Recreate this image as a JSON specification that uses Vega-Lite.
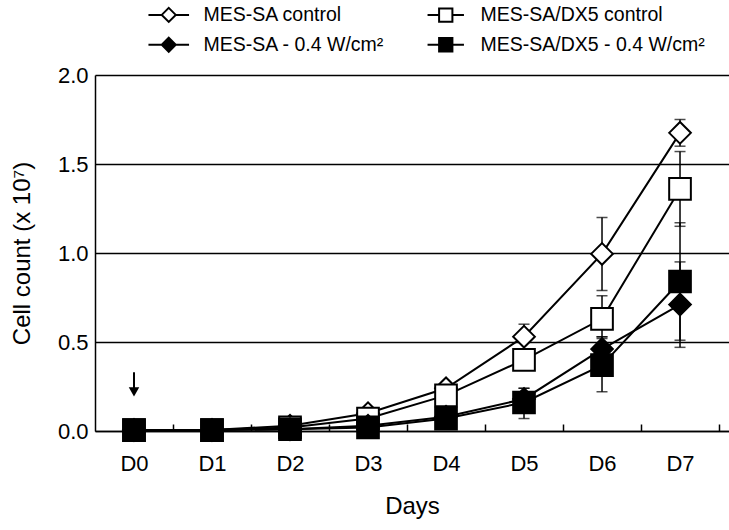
{
  "$schema": "https://vega.github.io/schema/vega-lite/v6.json",
  "width": 634,
  "height": 356,
  "autosize": {"type": "none"},
  "padding": {"left": 95, "top": 75, "right": 0, "bottom": 99},
  "config": {"view": {"stroke": null}, "font": "Liberation Sans"},
  "data": {
    "values": [
      {"series": "MES-SA control", "day": 0, "value": 0.005},
      {"series": "MES-SA control", "day": 1, "value": 0.005},
      {"series": "MES-SA control", "day": 2, "value": 0.03, "lo": 0.02, "hi": 0.04},
      {"series": "MES-SA control", "day": 3, "value": 0.1, "lo": 0.08, "hi": 0.12},
      {"series": "MES-SA control", "day": 4, "value": 0.24, "lo": 0.21, "hi": 0.27},
      {"series": "MES-SA control", "day": 5, "value": 0.53, "lo": 0.46, "hi": 0.6},
      {"series": "MES-SA control", "day": 6, "value": 0.995, "lo": 0.79, "hi": 1.2},
      {"series": "MES-SA control", "day": 7, "value": 1.675, "lo": 1.6, "hi": 1.75},
      {"series": "MES-SA/DX5 control", "day": 0, "value": 0.005},
      {"series": "MES-SA/DX5 control", "day": 1, "value": 0.005},
      {"series": "MES-SA/DX5 control", "day": 2, "value": 0.02},
      {"series": "MES-SA/DX5 control", "day": 3, "value": 0.07, "lo": 0.05, "hi": 0.09},
      {"series": "MES-SA/DX5 control", "day": 4, "value": 0.2, "lo": 0.17, "hi": 0.23},
      {"series": "MES-SA/DX5 control", "day": 5, "value": 0.4, "lo": 0.35, "hi": 0.45},
      {"series": "MES-SA/DX5 control", "day": 6, "value": 0.63, "lo": 0.53, "hi": 0.76},
      {"series": "MES-SA/DX5 control", "day": 7, "value": 1.36, "lo": 1.15, "hi": 1.57},
      {"series": "MES-SA - 0.4 W/cm²", "day": 0, "value": 0.005},
      {"series": "MES-SA - 0.4 W/cm²", "day": 1, "value": 0.005},
      {"series": "MES-SA - 0.4 W/cm²", "day": 2, "value": 0.01},
      {"series": "MES-SA - 0.4 W/cm²", "day": 3, "value": 0.03},
      {"series": "MES-SA - 0.4 W/cm²", "day": 4, "value": 0.08, "lo": 0.06, "hi": 0.1},
      {"series": "MES-SA - 0.4 W/cm²", "day": 5, "value": 0.18, "lo": 0.13, "hi": 0.24},
      {"series": "MES-SA - 0.4 W/cm²", "day": 6, "value": 0.46, "lo": 0.4, "hi": 0.53},
      {"series": "MES-SA - 0.4 W/cm²", "day": 7, "value": 0.71, "lo": 0.47, "hi": 0.95},
      {"series": "MES-SA/DX5 - 0.4 W/cm²", "day": 0, "value": 0.005},
      {"series": "MES-SA/DX5 - 0.4 W/cm²", "day": 1, "value": 0.005},
      {"series": "MES-SA/DX5 - 0.4 W/cm²", "day": 2, "value": 0.01},
      {"series": "MES-SA/DX5 - 0.4 W/cm²", "day": 3, "value": 0.02},
      {"series": "MES-SA/DX5 - 0.4 W/cm²", "day": 4, "value": 0.07, "lo": 0.05, "hi": 0.09},
      {"series": "MES-SA/DX5 - 0.4 W/cm²", "day": 5, "value": 0.16, "lo": 0.07, "hi": 0.24},
      {"series": "MES-SA/DX5 - 0.4 W/cm²", "day": 6, "value": 0.37, "lo": 0.22, "hi": 0.52},
      {"series": "MES-SA/DX5 - 0.4 W/cm²", "day": 7, "value": 0.84, "lo": 0.51, "hi": 1.17}
    ]
  },
  "encoding": {
    "x": {
      "field": "day",
      "type": "quantitative",
      "scale": {"domain": [-0.5, 7.628], "nice": false, "zero": false},
      "axis": {
        "values": [0, 0.5, 1, 1.5, 2, 2.5, 3, 3.5, 4, 4.5, 5, 5.5, 6, 6.5, 7, 7.5],
        "labelExpr": "datum.value % 1 == 0 ? 'D' + datum.value : ''",
        "tickOpacity": {"condition": {"test": "datum.value % 1 == 0", "value": 0}, "value": 1},
        "tickSize": -7,
        "tickColor": "black",
        "tickWidth": 1.5,
        "domainColor": "black",
        "domainWidth": 1.5,
        "grid": false,
        "labelFontSize": 22,
        "labelColor": "black",
        "labelPadding": 29,
        "title": "Days",
        "titleFontSize": 24,
        "titleFontWeight": "normal",
        "titleColor": "black",
        "titlePadding": 20
      }
    }
  },
  "layer": [
    {
      "mark": {"type": "rule", "color": "black", "strokeWidth": 1.5},
      "encoding": {
        "y": {
          "field": "lo",
          "type": "quantitative",
          "scale": {"domain": [0, 2], "nice": false},
          "axis": {
            "values": [0, 0.5, 1, 1.5, 2],
            "format": ".1f",
            "ticks": false,
            "grid": true,
            "gridColor": "black",
            "gridWidth": 1.5,
            "gridOpacity": 1,
            "domainColor": "black",
            "domainWidth": 1.5,
            "labelFontSize": 22,
            "labelColor": "black",
            "labelPadding": 7,
            "title": "Cell count (x 10⁷)",
            "titleFontSize": 24,
            "titleFontWeight": "normal",
            "titleColor": "black",
            "titlePadding": 23
          }
        },
        "y2": {"field": "hi"}
      }
    },
    {
      "mark": {"type": "tick", "orient": "horizontal", "color": "black", "size": 11, "thickness": 1.5},
      "encoding": {"y": {"field": "lo", "type": "quantitative"}}
    },
    {
      "mark": {"type": "tick", "orient": "horizontal", "color": "black", "size": 11, "thickness": 1.5},
      "encoding": {"y": {"field": "hi", "type": "quantitative"}}
    },
    {
      "mark": {"type": "line", "color": "black", "strokeWidth": 2},
      "encoding": {
        "y": {"field": "value", "type": "quantitative"},
        "detail": {"field": "series", "type": "nominal"}
      }
    },
    {
      "transform": [{"filter": "datum.day == 0"}],
      "mark": {"type": "point", "filled": false, "strokeWidth": 2, "opacity": 1, "size": 4},
      "encoding": {
        "y": {"field": "value", "type": "quantitative"},
        "shape": {
          "field": "series",
          "type": "nominal",
          "scale": {
            "domain": ["MES-SA control", "MES-SA - 0.4 W/cm²", "MES-SA/DX5 control", "MES-SA/DX5 - 0.4 W/cm²"],
            "range": [
              "M-2.9,0H-1M1,0H2.9M0,-1L1,0L0,1L-1,0Z",
              "M-2.9,0H-1M1,0H2.9M0,-1L1,0L0,1L-1,0Z",
              "M-2.6,0H-0.95M0.95,0H2.6M-0.95,-0.95H0.95V0.95H-0.95Z",
              "M-2.6,0H-0.95M0.95,0H2.6M-0.95,-0.95H0.95V0.95H-0.95Z"
            ]
          },
          "legend": {
            "orient": "none",
            "legendX": 64,
            "legendY": -70,
            "columns": 2,
            "columnPadding": 38,
            "rowPadding": 7,
            "title": null,
            "labelFontSize": 19.5,
            "labelColor": "black",
            "labelOffset": 25,
            "labelLimit": 400,
            "symbolSize": 196,
            "symbolStrokeWidth": 2,
            "padding": 0
          }
        },
        "fill": {
          "field": "series",
          "type": "nominal",
          "scale": {
            "domain": ["MES-SA control", "MES-SA - 0.4 W/cm²", "MES-SA/DX5 control", "MES-SA/DX5 - 0.4 W/cm²"],
            "range": ["white", "black", "white", "black"]
          }
        },
        "stroke": {
          "field": "series",
          "type": "nominal",
          "scale": {
            "domain": ["MES-SA control", "MES-SA - 0.4 W/cm²", "MES-SA/DX5 control", "MES-SA/DX5 - 0.4 W/cm²"],
            "range": ["black", "black", "black", "black"]
          }
        }
      }
    },
    {
      "mark": {"type": "point", "filled": true, "stroke": "black", "strokeWidth": 2, "opacity": 1, "size": 470},
      "encoding": {
        "y": {"field": "value", "type": "quantitative"},
        "shape": {
          "field": "series",
          "type": "nominal",
          "scale": {
            "domain": ["MES-SA control", "MES-SA - 0.4 W/cm²", "MES-SA/DX5 control", "MES-SA/DX5 - 0.4 W/cm²"],
            "range": ["diamond", "diamond", "square", "square"]
          },
          "legend": null
        },
        "fill": {
          "field": "series",
          "type": "nominal",
          "scale": {
            "domain": ["MES-SA control", "MES-SA - 0.4 W/cm²", "MES-SA/DX5 control", "MES-SA/DX5 - 0.4 W/cm²"],
            "range": ["white", "black", "white", "black"]
          },
          "legend": null
        }
      }
    },
    {
      "data": {"values": [{"day": 0, "top": 0.33, "bottom": 0.22}]},
      "layer": [
        {
          "mark": {"type": "rule", "color": "black", "strokeWidth": 2},
          "encoding": {
            "y": {"field": "top", "type": "quantitative"},
            "y2": {"field": "bottom"}
          }
        },
        {
          "mark": {"type": "point", "shape": "triangle-down", "filled": true, "color": "black", "opacity": 1, "size": 110},
          "encoding": {"y": {"field": "bottom", "type": "quantitative"}}
        }
      ]
    }
  ],
  "resolve": {"scale": {"shape": "independent", "fill": "independent", "stroke": "independent"}}
}
